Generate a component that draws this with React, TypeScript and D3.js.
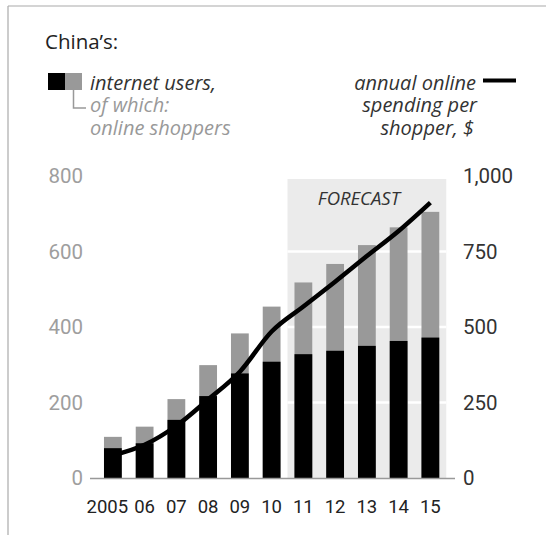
import React from "react";
import * as d3 from "d3";

const years = ["2005", "06", "07", "08", "09", "10", "11", "12", "13", "14", "15"];
const internetUsers = [109, 136, 209, 299, 383, 454, 518, 567, 617, 664, 705];
const onlineShoppers = [79, 92, 154, 217, 277, 308, 328, 337, 350, 363, 372];
const spendingPerShopper = [75, 110, 173, 260, 352, 485, 568, 650, 735, 818, 912];
const leftTicks = [0, 200, 400, 600, 800];
const rightTicks = [0, 250, 500, 750, 1000];
const rightTickLabels = ["0", "250", "500", "750", "1,000"];
const forecastYears = ["11", "15"];

const W = 546;
const H = 535;
const FONT = "Roboto, 'Open Sans', 'DejaVu Sans', sans-serif";
const FONT_IT = "'Open Sans', Roboto, 'DejaVu Sans', sans-serif";

export default function App() {
  const x = d3
    .scaleBand<string>()
    .domain(years)
    .range([97, 446.25])
    .paddingInner(0.44)
    .paddingOuter(0.22);
  const yL = d3.scaleLinear().domain([0, 800]).range([478, 176]);
  const yR = d3.scaleLinear().domain([0, 1000]).range([478, 176]);
  const step = x.step();
  const bw = x.bandwidth();
  const cx = (yr: string) => (x(yr) as number) + bw / 2;

  const line = d3
    .line<number>()
    .x((_, i) => cx(years[i]))
    .y((d) => yR(d))
    .curve(d3.curveMonotoneX);

  const fx0 = cx(forecastYears[0]) - step / 2;
  const fx1 = cx(forecastYears[1]) + step / 2;

  return (
    <svg
      width={W}
      height={H}
      style={{ position: "absolute", left: 0, top: 0, background: "#fff" }}
      fontFamily={FONT}
    >
      {/* frame */}
      <line x1={8} y1={6} x2={W} y2={6} stroke="#aaa" strokeWidth={1.2} />
      <line x1={8} y1={6} x2={8} y2={H} stroke="#aaa" strokeWidth={1.2} />

      {/* title */}
      <text x={45} y={49} fontSize={20.5} fill="#222" fontFamily={FONT_IT}>
        China’s:
      </text>

      {/* left legend */}
      <rect x={48} y={73} width={17} height={17} fill="#000" />
      <rect x={65} y={73} width={17} height={17} fill="#999" />
      <path d="M73.5,90 V108 H86" fill="none" stroke="#999" strokeWidth={1.5} />
      <g fontFamily={FONT_IT} fontStyle="italic" fontSize={20}>
        <text x={90} y={90} fill="#333">
          internet users,
        </text>
        <text x={90} y={112} fill="#999">
          of which:
        </text>
        <text x={90} y={135} fill="#999">
          online shoppers
        </text>

        {/* right legend */}
        <text x={476} y={90} fill="#333" textAnchor="end">
          annual online
        </text>
        <text x={477} y={112} fill="#333" textAnchor="end">
          spending per
        </text>
        <text x={474} y={135} fill="#333" textAnchor="end">
          shopper, $
        </text>
      </g>
      <line x1={483} y1={80.5} x2={516} y2={80.5} stroke="#000" strokeWidth={4} />

      {/* forecast shading */}
      <rect x={fx0} y={179} width={fx1 - fx0} height={yR(0) - 179} fill="#ebebeb" />
      {rightTicks
        .filter((t) => t > 0 && t < 1000)
        .map((t) => (
          <line key={t} x1={fx0} x2={fx1} y1={yR(t)} y2={yR(t)} stroke="#fff" strokeWidth={2.5} />
        ))}
      <text
        x={(fx0 + fx1) / 2 - 8}
        y={205}
        fontSize={18.5}
        fontStyle="italic"
        fontFamily={FONT_IT}
        fill="#333"
        textAnchor="middle"
      >
        FORECAST
      </text>

      {/* bars */}
      {years.map((yr, i) => (
        <g key={yr}>
          <rect
            x={x(yr)}
            y={yL(internetUsers[i])}
            width={bw}
            height={yL(0) - yL(internetUsers[i])}
            fill="#999"
          />
          <rect
            x={x(yr)}
            y={yL(onlineShoppers[i])}
            width={bw}
            height={yL(0) - yL(onlineShoppers[i])}
            fill="#000"
          />
        </g>
      ))}

      {/* axis baseline */}
      <line x1={90} x2={455} y1={478.5} y2={478.5} stroke="#999" strokeWidth={1.5} />

      {/* left ticks */}
      {leftTicks.map((t) => (
        <text
          key={t}
          x={83}
          y={yL(t)}
          dy="0.36em"
          fontSize={20.5}
          fill="#9e9e9e"
          textAnchor="end"
        >
          {t}
        </text>
      ))}

      {/* right ticks */}
      {rightTicks.map((t, i) => (
        <text key={t} x={463} y={yR(t)} dy="0.36em" fontSize={20.5} fill="#333">
          {rightTickLabels[i]}
        </text>
      ))}

      {/* x labels */}
      {years.map((yr, i) => (
        <text
          key={yr}
          x={cx(yr) + (i === 0 ? -5.5 : 0)}
          y={513}
          fontSize={18.5}
          fill="#222"
          textAnchor="middle"
        >
          {yr}
        </text>
      ))}

      {/* line */}
      <path
        d={line(spendingPerShopper) || ""}
        fill="none"
        stroke="#000"
        strokeWidth={4.5}
        strokeLinejoin="round"
        strokeLinecap="butt"
      />
    </svg>
  );
}
